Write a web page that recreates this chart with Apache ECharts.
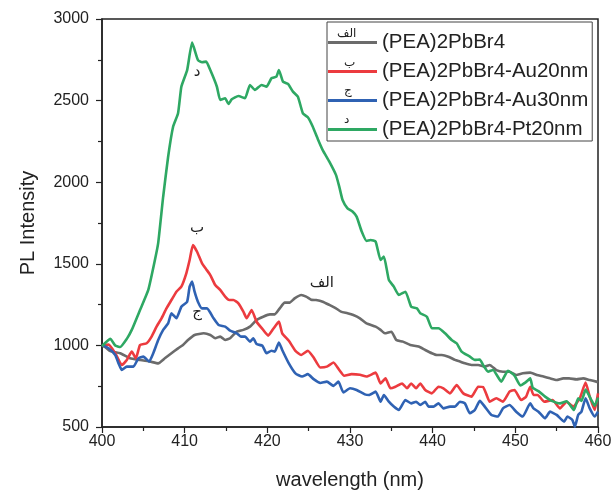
<!DOCTYPE html>
<html>
<head>
<meta charset="utf-8">
<script src="https://cdn.jsdelivr.net/npm/echarts@6/dist/echarts.min.js"></script>
<style>html,body{margin:0;padding:0;background:#fff;}#c{width:613px;height:491px;}</style>
</head>
<body>
<div id="c"></div>
<script>
// ---- data ----
const seriesNames = ['(PEA)2PbBr4', '(PEA)2PbBr4-Au20nm', '(PEA)2PbBr4-Au30nm', '(PEA)2PbBr4-Pt20nm'];
const legendTags = ['الف', 'ب', 'ج', 'د'];

const gray = [[400,1000],[400.5,985],[401,965],[402.2,952],[403.4,921],[404.6,911],[405.8,901],[406.8,890],[407.6,921],[408.4,952],[409.2,982],[409.8,1003],[410.4,1033],[411.2,1064],[412.3,1074],[413.1,1064],[413.7,1044],[414.3,1054],[414.9,1033],[415.5,1044],[416.3,1084],[417.1,1095],[417.9,1115],[418.7,1156],[419.5,1176],[420.3,1190],[420.9,1190],[421.5,1227],[422.1,1262],[422.7,1262],[423.3,1288],[424.1,1309],[424.7,1299],[425.3,1280],[425.9,1278],[426.7,1268],[427.5,1248],[428.3,1227],[428.9,1207],[429.7,1197],[430.4,1186],[431.2,1166],[432,1135],[433.1,1115],[433.7,1095],[434.2,1074],[435,1084],[435.6,1033],[436.4,1023],[437.3,1003],[438.3,993],[439.1,972],[439.9,952],[440.5,941],[441.1,941],[441.9,931],[442.7,911],[443.3,901],[443.9,890],[444.7,880],[445.5,880],[446.3,870],[446.9,880],[447.7,849],[448.5,839],[449.3,839],[450.1,819],[450.9,829],[451.8,833],[452.6,819],[453.4,809],[454.2,798],[455,788],[455.8,798],[456.5,798],[457.4,792],[458.2,798],[459,788],[459.8,778],[460,775]];

const red = [[400,1000],[400.8,1005],[401.6,952],[402.4,880],[403,911],[403.6,962],[404.1,921],[404.6,1003],[405.4,1013],[406,1054],[406.6,1115],[407.2,1166],[407.8,1227],[408.4,1278],[409,1329],[409.6,1360],[410.2,1442],[410.6,1523],[411,1615],[411.5,1574],[412.1,1503],[412.6,1467],[413.1,1431],[413.7,1370],[414.3,1340],[414.9,1299],[415.4,1278],[415.9,1278],[416.5,1258],[417.1,1207],[417.5,1166],[418.1,1217],[418.7,1145],[419.5,1095],[420.1,1060],[420.7,1100],[421.4,1146],[421.8,1074],[422.6,1028],[423.4,967],[424.1,941],[424.9,967],[425.6,926],[426.4,865],[427.2,870],[428,895],[428.7,849],[429.3,814],[430.2,824],[431.2,820],[432,809],[433.1,833],[433.7,767],[434.3,798],[434.9,737],[435.5,747],[436.3,767],[436.9,737],[437.4,767],[438,737],[438.5,767],[439.1,727],[439.9,706],[440.7,747],[441.3,737],[442.1,706],[442.9,757],[443.7,706],[444.7,686],[445.5,747],[446.1,745],[446.5,700],[446.9,655],[447.7,676],[448.5,655],[449.3,717],[449.9,727],[450.7,665],[451.3,686],[451.8,747],[452.2,696],[452.7,696],[453.5,655],[454.5,665],[455.4,614],[456.2,655],[457,625],[457.8,676],[458.5,772],[459,686],[459.6,604],[460,706]];

const blue = [[400,1003],[400.8,982],[401.6,941],[402,890],[402.4,849],[403,870],[403.8,870],[404.4,921],[405,931],[405.7,901],[406.2,952],[406.8,1033],[407.4,1095],[408,1135],[408.4,1197],[409,1166],[409.6,1237],[410.3,1268],[410.6,1360],[410.9,1391],[411.2,1329],[411.6,1268],[412.1,1227],[412.7,1227],[413.5,1166],[414.1,1125],[414.9,1115],[415.5,1090],[416.3,1074],[416.8,1054],[417.3,1054],[417.9,1023],[418.3,1044],[418.7,1008],[419.4,998],[419.9,952],[420.5,967],[420.9,962],[421.4,1018],[421.8,972],[422.6,890],[423.4,829],[424.2,809],[424.9,824],[425.6,793],[426.4,770],[427.2,778],[428,752],[428.6,778],[429.2,712],[430,737],[430.8,727],[431.8,700],[432.3,696],[433.1,717],[433.7,655],[434.1,696],[434.7,655],[435.3,625],[435.9,604],[436.7,665],[437.4,645],[438,655],[438.5,635],[439.1,655],[439.5,625],[440.1,625],[440.7,645],[441.3,614],[442.1,625],[442.7,625],[443.3,655],[443.9,645],[444.5,584],[445.1,604],[445.7,660],[446.3,625],[447.1,574],[447.9,564],[448.5,614],[449.3,635],[450.1,594],[450.9,564],[451.8,645],[452.2,614],[452.8,594],[453.6,553],[454.2,594],[455,574],[455.9,533],[456.3,564],[456.9,543],[457.2,502],[457.6,574],[458,594],[458.5,676],[459,614],[459.6,564],[460,594]];

const green = [[400,995],[401,1040],[401.6,1000],[402.2,990],[403,1040],[403.6,1095],[404.6,1217],[405.6,1340],[406.4,1523],[406.8,1628],[407.4,1911],[408,2156],[408.6,2340],[409.2,2422],[409.6,2585],[410.3,2687],[410.9,2855],[411.6,2749],[412.1,2735],[412.6,2739],[413.1,2687],[413.9,2585],[414.3,2504],[414.9,2514],[415.3,2479],[415.7,2508],[416.5,2528],[417.3,2514],[417.9,2596],[418.5,2565],[419.3,2596],[419.9,2585],[420.5,2637],[421.1,2647],[421.4,2687],[421.9,2616],[422.5,2602],[423.1,2555],[423.7,2524],[424.3,2422],[424.9,2398],[425.5,2340],[426.1,2265],[426.7,2197],[427.5,2126],[428.3,2045],[428.7,1973],[429.1,1891],[429.7,1840],[430.3,1820],[430.8,1789],[431.4,1700],[432,1640],[432.5,1646],[433.1,1636],[433.7,1523],[434.1,1544],[434.7,1401],[435.3,1360],[435.9,1309],[436.7,1329],[437.4,1237],[438.1,1227],[438.5,1197],[439.3,1176],[439.9,1105],[440.7,1105],[441.5,1074],[442.3,1033],[442.9,1013],[443.5,962],[444.5,931],[445.1,911],[445.7,913],[446.1,880],[446.7,839],[447.3,849],[448.3,778],[449.1,845],[449.9,815],[450.6,755],[451.2,772],[451.8,798],[452.1,740],[452.8,720],[453.6,686],[454.4,660],[455.4,645],[456.2,658],[457.1,604],[457.6,676],[458,660],[458.5,729],[459.2,665],[459.6,630],[460,680]];

// annotation labels placed in data space [wavelength, intensity]
const annGray = [426.6, 1382];
const annRed = [411.5, 1720];
const annBlue = [411.5, 1205];
const annGreen = [411.5, 2675];

const xTicks = {min: 400, max: 460, interval: 10};
const yTicks = {min: 500, max: 3000, interval: 500};

// ---- chart ----
const colors = ['#6b6b6b', '#ec3b3f', '#2f62b3', '#2ea863'];
const arab = 'DejaVu Sans, sans-serif';
const latin = 'Liberation Sans, Arial, sans-serif';
function ann(name, coord) {
  return {
    symbol: 'circle', symbolSize: 0, silent: true, animation: false,
    label: {show: true, position: 'inside', formatter: '{b}', color: '#222', fontSize: 15, fontFamily: arab},
    data: [{name: name, coord: coord}]
  };
}
const datasets = [gray, red, blue, green];
const anns = [annGray, annRed, annBlue, annGreen];
const chart = echarts.init(document.getElementById('c'), null, {renderer: 'canvas'});
const axisFont = {color: '#222', fontSize: 16, fontFamily: latin, formatter: v => String(v)};
chart.setOption({
  animation: false,
  backgroundColor: '#fff',
  grid: {left: 102, right: 15, top: 19, bottom: 64, show: true, borderColor: '#222', borderWidth: 1.5,
         backgroundColor: 'transparent', containLabel: false, outerBoundsMode: 'none'},
  legend: {
    orient: 'vertical', left: 327, top: 22,
    padding: [10, 4, 1, 1], itemGap: 8,
    itemWidth: 49, itemHeight: 3, icon: 'rect',
    borderColor: '#444', borderWidth: 1,
    textStyle: {color: '#222', fontSize: 20.5, fontFamily: latin},
    data: seriesNames
  },
  xAxis: {
    type: 'value', min: xTicks.min, max: xTicks.max, interval: xTicks.interval,
    name: 'wavelength (nm)', nameLocation: 'middle', nameGap: 43,
    nameTextStyle: {color: '#222', fontSize: 20, fontFamily: latin},
    axisLine: {show: true, onZero: false, lineStyle: {color: '#222', width: 1.5}},
    axisTick: {show: true, length: 6, lineStyle: {color: '#222', width: 1.2}},
    minorTick: {show: true, splitNumber: 2, length: 4, lineStyle: {color: '#222', width: 1.2}},
    axisLabel: Object.assign({margin: 7}, axisFont),
    splitLine: {show: false}
  },
  yAxis: {
    type: 'value', min: yTicks.min, max: yTicks.max, interval: yTicks.interval,
    name: 'PL Intensity', nameLocation: 'middle', nameGap: 64, nameRotate: 90,
    nameTextStyle: {color: '#222', fontSize: 20, fontFamily: latin},
    axisLine: {show: true, onZero: false, lineStyle: {color: '#222', width: 1.5}},
    axisTick: {show: true, length: 6, lineStyle: {color: '#222', width: 1.2}},
    minorTick: {show: true, splitNumber: 2, length: 4, lineStyle: {color: '#222', width: 1.2}},
    axisLabel: Object.assign({margin: 13}, axisFont),
    splitLine: {show: false}
  },
  series: seriesNames.map((n, i) => ({
    name: n, type: 'line', data: datasets[i], showSymbol: false, symbol: 'none',
    smooth: 0.15, lineStyle: {color: colors[i], width: 2.6}, itemStyle: {color: colors[i]},
    z: 2 + i,
    markPoint: ann(legendTags[i], anns[i])
  })),
  graphic: legendTags.map((t, i) => ({
    type: 'text', left: i === 0 ? 337 : 344, top: 28 + i * 28.6,
    z: 100,
    style: {text: t, fill: '#222', fontSize: 12, fontFamily: arab}
  }))
});
</script>
</body>
</html>
